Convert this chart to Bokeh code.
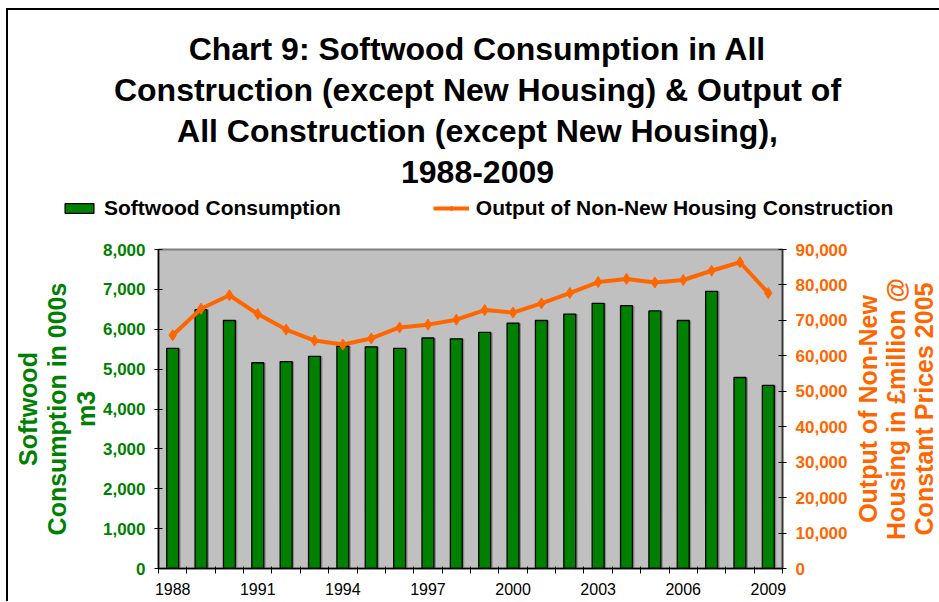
from bokeh.plotting import figure
from bokeh.layouts import row, column
from bokeh.models import (Range1d, LinearAxis, FixedTicker, NumeralTickFormatter,
                          Legend, LegendItem, ColumnDataSource, Label)
from bokeh.transform import dodge
from bokeh.embed import file_html
from bokeh.resources import INLINE

# ---------------- data ----------------
years = list(range(1988, 2010))
softwood = [5520, 6490, 6220, 5160, 5190, 5320, 5580, 5560, 5520, 5780, 5760,
            5920, 6150, 6220, 6380, 6650, 6590, 6460, 6220, 6950, 4790, 4590]
output = [65800, 73300, 77100, 71800, 67400, 64300, 63200, 64900, 68000, 68800, 70200,
          72900, 72200, 74800, 77700, 80800, 81700, 80700, 81400, 84000, 86400, 77700]
x_tick_labels = [1988, 1991, 1994, 1997, 2000, 2003, 2006, 2009]
left_ticks = [0, 1000, 2000, 3000, 4000, 5000, 6000, 7000, 8000]
right_ticks = [0, 10000, 20000, 30000, 40000, 50000, 60000, 70000, 80000, 90000]

title_lines = ["Chart 9: Softwood Consumption in All",
               "Construction (except New Housing) & Output of",
               "All Construction (except New Housing),",
               "1988-2009"]
left_title = "Softwood\nConsumption in 000s\nm3"
right_title = "Output of Non-New\nHousing in £million @\nConstant Prices 2005"
bar_label = "Softwood Consumption"
line_label = "Output of Non-New Housing Construction"

FONT = "Liberation Sans"
GREEN = "#008000"
ORANGE = "#FF6600"

src = ColumnDataSource(dict(year=years, softwood=softwood, output=output))

# ---------------- header: title lines and legend ----------------
h = figure(width=931, height=227, output_backend="svg", toolbar_location=None,
           title=None, x_axis_type=None, y_axis_type=None,
           x_range=Range1d(0, 1), y_range=Range1d(0, 1),
           min_border_left=0, min_border_right=0, min_border_top=0, min_border_bottom=0,
           background_fill_color="white", border_fill_color="white",
           outline_line_color=None)
h.xgrid.visible = False
h.ygrid.visible = False

for i, line in enumerate(title_lines):
    h.add_layout(Label(x=469, y=189 - 41.3 * i, x_units="screen", y_units="screen",
                       text=line, text_align="center", text_baseline="alphabetic",
                       text_font=FONT, text_font_size="32px", text_font_style="bold",
                       text_color="black"))

# legend keys: hidden copies of the chart's renderers, used only for the key swatches
key_bar = h.vbar(x="year", top="softwood", width=0.42, source=src, fill_color=GREEN,
                 line_color="black", line_width=1.3, visible=False)
key_line = h.line("year", "output", source=src, line_color=ORANGE, line_width=4,
                  visible=False)
key_pts = h.scatter("year", "output", source=src, marker="diamond", size=11,
                    fill_color=ORANGE, line_color=ORANGE, visible=False)
legend = Legend(items=[LegendItem(label=bar_label, renderers=[key_bar]),
                       LegendItem(label=line_label, renderers=[key_line, key_pts])],
                location=(53, 17.5), orientation="horizontal", spacing=92,
                glyph_width=36, glyph_height=12, label_standoff=7,
                padding=0, margin=0, border_line_color=None,
                background_fill_alpha=0, inactive_fill_alpha=0,
                label_text_font=FONT, label_text_font_size="21px",
                label_text_font_style="bold", label_text_color="black")
h.add_layout(legend)

# ---------------- main chart ----------------
p = figure(width=842, height=364, output_backend="svg", toolbar_location=None,
           title=None,
           x_range=Range1d(years[0] - 0.5, years[-1] + 0.5),
           y_range=Range1d(left_ticks[0], left_ticks[-1]),
           min_border_left=150, min_border_right=66, min_border_top=12,
           min_border_bottom=33,
           background_fill_color="#C0C0C0", border_fill_color="white",
           outline_line_color="#808080", outline_line_width=2)
p.extra_y_ranges = {"right": Range1d(right_ticks[0], right_ticks[-1])}
p.xgrid.visible = False
p.ygrid.visible = False

# bars (with a light drop shadow)
p.vbar(x=dodge("year", 0.07, range=p.x_range), top="softwood", width=0.42, source=src,
       fill_color="#8a8a8a", line_color=None)
bars = p.vbar(x="year", top="softwood", width=0.42, source=src,
              fill_color=GREEN, line_color="black", line_width=1.3)

# line
ln = p.line("year", "output", source=src, y_range_name="right",
            line_color=ORANGE, line_width=4)
pts = p.scatter("year", "output", source=src, y_range_name="right", marker="diamond",
                size=11, fill_color=ORANGE, line_color=ORANGE)

# x axis
xa = p.xaxis[0]
xa.ticker = FixedTicker(ticks=x_tick_labels,
                        minor_ticks=[y - 0.5 for y in years] + [years[-1] + 0.5])
xa.major_tick_in = 0
xa.major_tick_out = 0
xa.minor_tick_in = 2
xa.minor_tick_out = 5
xa.minor_tick_line_color = "black"
xa.minor_tick_line_width = 1
xa.axis_line_color = "black"
xa.axis_line_width = 1.5
xa.major_label_text_font = FONT
xa.major_label_text_font_size = "16px"
xa.major_label_text_color = "black"
xa.major_label_standoff = 9

# left axis
ya = p.yaxis[0]
ya.ticker = FixedTicker(ticks=left_ticks)
ya.formatter = NumeralTickFormatter(format="0,0")
ya.major_tick_in = 4
ya.major_tick_out = 4
ya.minor_tick_line_color = None
ya.axis_line_color = "black"
ya.axis_line_width = 1.5
ya.major_label_standoff = 9
ya.major_label_text_font = FONT
ya.major_label_text_font_size = "17px"
ya.major_label_text_font_style = "bold"
ya.major_label_text_color = GREEN
ya.axis_label = left_title
ya.axis_label_text_font = FONT
ya.axis_label_text_font_size = "25px"
ya.axis_label_text_font_style = "bold"
ya.axis_label_text_color = GREEN
ya.axis_label_text_line_height = 1.04
ya.axis_label_standoff = 0

# right axis (ticks only; its title is drawn by the side figure)
ra = LinearAxis(y_range_name="right", ticker=FixedTicker(ticks=right_ticks),
                formatter=NumeralTickFormatter(format="0,0"))
ra.major_tick_in = 4
ra.major_tick_out = 4
ra.minor_tick_line_color = None
ra.axis_line_color = "#333333"
ra.axis_line_width = 1.5
ra.major_label_standoff = 9
ra.major_label_text_font = FONT
ra.major_label_text_font_size = "17px"
ra.major_label_text_font_style = "bold"
ra.major_label_text_color = ORANGE
p.add_layout(ra, "right")

# side figure carrying the right-hand axis title (reads bottom-to-top)
s = figure(width=88, height=364, output_backend="svg", toolbar_location=None,
           title=None, x_axis_type=None, x_range=Range1d(0, 1), y_range=Range1d(0, 1),
           min_border_left=0, min_border_right=0, min_border_top=12,
           min_border_bottom=33, background_fill_alpha=0, border_fill_color="white",
           outline_line_color=None)
s.xgrid.visible = False
s.ygrid.visible = False
sa = s.yaxis[0]
sa.ticker = FixedTicker(ticks=[])
sa.major_tick_in = 0
sa.major_tick_out = 0
sa.minor_tick_line_color = None
sa.axis_line_color = None
sa.axis_label = right_title
sa.axis_label_text_font = FONT
sa.axis_label_text_font_size = "25px"
sa.axis_label_text_font_style = "bold"
sa.axis_label_text_color = ORANGE
sa.axis_label_text_line_height = 1.0
sa.axis_label_standoff = 0

layout = column(h, row(p, s),
                styles={"margin-left": "6px", "margin-top": "8px",
                        "border-left": "2px solid black",
                        "border-top": "2px solid black"})

open("out.html", "w").write(file_html(layout, INLINE))
